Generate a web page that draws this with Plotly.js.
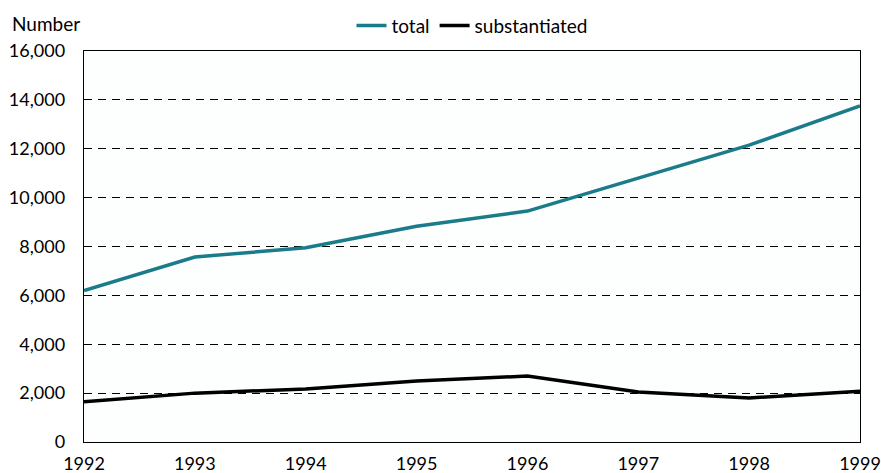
<!DOCTYPE html>
<html>
<head>
<meta charset="utf-8">
<script src="https://cdn.plot.ly/plotly-3.0.1.min.js"></script>
<style>html,body{margin:0;padding:0;background:#fff;}#chart{width:881px;height:473px;}</style>
</head>
<body>
<div id="chart"></div>
<script>
const years = [1992, 1993, 1994, 1995, 1996, 1997, 1998, 1999];
const totalValues = [6200, 7570, 7950, 8830, 9450, 10800, 12150, 13750];
const substantiatedValues = [1650, 2000, 2170, 2500, 2700, 2050, 1800, 2080];
const seriesNames = ['total', 'substantiated'];
const yAxisLabel = 'Number';

const FONT = 'Lato, "Open Sans", sans-serif';

const traces = [
  {x: years, y: totalValues, name: seriesNames[0], type: 'scatter', mode: 'lines',
   line: {color: '#1a7b8a', width: 3.5}},
  {x: years, y: substantiatedValues, name: seriesNames[1], type: 'scatter', mode: 'lines',
   line: {color: '#000000', width: 3.5}}
];

const layout = {
  width: 881, height: 473,
  margin: {l: 84, r: 21, t: 51, b: 31, autoexpand: false},
  paper_bgcolor: '#ffffff',
  plot_bgcolor: '#fdfefe',
  font: {family: FONT, size: 18, color: '#000'},
  showlegend: true,
  legend: {orientation: 'h', x: 0.5, xanchor: 'center', y: 1.016, yanchor: 'bottom',
           font: {family: FONT, size: 19, color: '#000'}, itemwidth: 30, tracegroupgap: 0,
           bgcolor: 'rgba(0,0,0,0)'},
  xaxis: {range: [1992, 1999], tickvals: years, ticktext: years.map(String), automargin: false,
          showgrid: false, zeroline: false, showline: true, linecolor: '#000', linewidth: 1.3,
          mirror: true, ticks: '', tickfont: {family: FONT, size: 18}, ticklabelstandoff: 5,
          fixedrange: true},
  yaxis: {range: [0, 16000], dtick: 2000, tick0: 0, tickformat: ',d', automargin: false,
          showgrid: true, gridcolor: '#000', gridwidth: 1, griddash: '8px,6px',
          zeroline: false, showline: true, linecolor: '#000', linewidth: 1.3, mirror: true,
          ticks: '', tickfont: {family: FONT, size: 18}, ticklabelstandoff: 14, fixedrange: true},
  annotations: [{text: yAxisLabel, xref: 'paper', yref: 'paper', x: -0.096, y: 1.035,
                 xanchor: 'left', yanchor: 'bottom', showarrow: false,
                 font: {family: FONT, size: 19, color: '#000'}}]
};

Plotly.newPlot('chart', traces, layout, {displayModeBar: false, staticPlot: true});
</script>
</body>
</html>
